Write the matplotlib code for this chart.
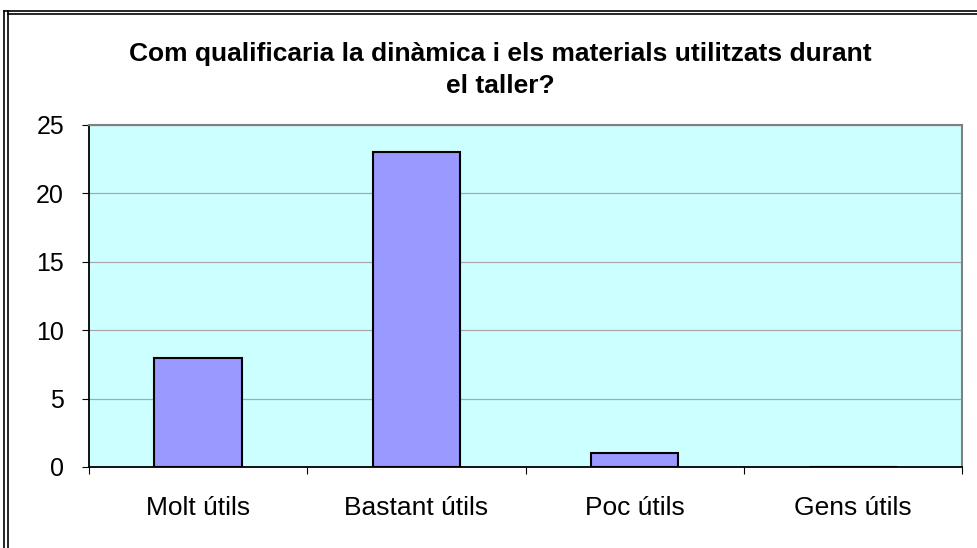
import matplotlib.pyplot as plt
from matplotlib.lines import Line2D
import numpy as np

categories = ['Molt útils', 'Bastant útils', 'Poc útils', 'Gens útils']
values = [8, 23, 1, 0]
yticks = [0, 5, 10, 15, 20, 25]
title = 'Com qualificaria la dinàmica i els materials utilitzats durant\nel taller?'

plt.rcParams['font.family'] = ['Liberation Sans', 'DejaVu Sans']

fig = plt.figure(figsize=(9.77, 5.48), dpi=100)
ax = fig.add_axes([89 / 977, 1 - 467 / 548, (962 - 89) / 977, (467 - 125) / 548])

x = np.arange(len(categories))
ax.bar(x, values, width=0.4, color='#9999FF', edgecolor='black', linewidth=1.5, zorder=3)

ax.set_facecolor('#CCFFFF')
ax.set_xlim(-0.5, len(categories) - 0.5)
ax.set_ylim(0, 25)
ax.set_yticks(yticks)
ax.yaxis.grid(True, color='#A8A8A8', linewidth=0.9, zorder=0)
ax.tick_params(axis='y', labelsize=18, length=5, direction='out', pad=13)

# category labels between boundary ticks
ax.set_xticks(np.arange(-0.5, len(categories), 1))
ax.set_xticklabels([])
ax.set_xticks(x, minor=True)
ax.set_xticklabels(categories, minor=True)
ax.tick_params(axis='x', which='major', length=5, direction='out')
ax.tick_params(axis='x', which='minor', length=0, labelsize=19, pad=21)

for side in ['top', 'right']:
    ax.spines[side].set_color('#808080')
    ax.spines[side].set_linewidth(1.5)
ax.spines['left'].set_color('black')
ax.spines['bottom'].set_color('black')
ax.spines['left'].set_linewidth(1.3)
ax.spines['bottom'].set_linewidth(1.3)

fig.text(500 / 977, 1 - 70 / 548, title, ha='center', va='center',
         fontsize=19, fontweight='bold', linespacing=1.45)

# outer double border
for px in [4, 8]:
    fig.add_artist(Line2D([px / 977, px / 977], [0, 1 - 11 / 548], color='black', lw=1.2))
fig.add_artist(Line2D([4 / 977, 1], [1 - 11 / 548, 1 - 11 / 548], color='black', lw=1.2))
fig.add_artist(Line2D([8 / 977, 1], [1 - 14 / 548, 1 - 14 / 548], color='black', lw=1.2))

fig.savefig('out.png', dpi=100)
